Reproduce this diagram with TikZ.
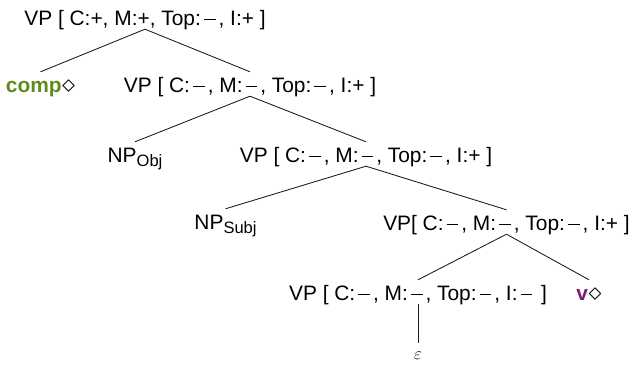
\documentclass[tikz,border=0pt]{standalone}
\usepackage{fontspec}
\setmainfont{Liberation Sans}
\definecolor{compgreen}{RGB}{96,140,28}
\definecolor{vpurple}{RGB}{122,26,122}
% feature value "minus", a spaced bar
\newcommand\fminus{\kern0.145em\rule[0.225em]{0.557em}{0.065em}\kern0.145em}
% lowered subscript for category labels
\newcommand\fsub[1]{\raisebox{-4.5pt}{\fontsize{16.5}{18}\selectfont #1}}
% head marker diamond
\newcommand\hdiam{\kern0.5pt\raisebox{-0.8pt}{\scalebox{1.25}{$\diamond$}}}
\tikzset{
  lbl/.style={anchor=base, inner xsep=0pt, inner ysep=4pt,
    text height=16pt, text depth=0pt,
    font=\fontsize{20.9}{25}\selectfont},
  branch/.style={line width=0.85pt, draw=black!90}
}
\begin{document}
\begin{tikzpicture}[x=1pt,y=-1pt]
\useasboundingbox (0,0) rectangle (633,365);

\node[lbl] (root)   at (145,25)   {VP [ C:+, M:+, Top:\fminus, I:+ ]};
\node[lbl] (comp)   at (40.5,92)  {\textcolor{compgreen}{\textbf{comp}}\hdiam};
\node[lbl] (vp2)    at (250,92)   {VP [ C:\fminus, M:\fminus, Top:\fminus, I:+ ]};
\node[lbl] (npobj)  at (135,162)  {NP\fsub{Obj}};
\node[lbl] (vp3)    at (366,162)  {VP [ C:\fminus, M:\fminus, Top:\fminus, I:+ ]};
\node[lbl] (npsubj) at (225.5,229) {NP\fsub{Subj}};
\node[lbl] (vp4)    at (506.5,230) {VP[ C:\fminus, M:\fminus, Top:\fminus, I:+ ]};
\node[lbl] (vp5)    at (418,300)  {VP [ C:\fminus, M:\fminus, Top:\fminus, I:\fminus{} ]};
\node[lbl] (vv)     at (589,300)  {\textcolor{vpurple}{\textbf{v}}\hdiam};
\node[anchor=base, inner sep=0pt, text height=16pt, text depth=0pt,
      font=\fontsize{18}{20}\selectfont] (eps) at (418,359) {$\varepsilon$};

\draw[branch] (root.south) -- (comp.north);
\draw[branch] (root.south) -- (vp2.north);
\draw[branch] (vp2.south) -- (npobj.north);
\draw[branch] (vp2.south) -- (vp3.north);
\draw[branch] (vp3.south) -- (npsubj.north);
\draw[branch] (vp3.south) -- (vp4.north);
\draw[branch] (vp4.south) -- (vp5.north);
\draw[branch] (vp4.south) -- (vv.north);
\draw[branch] (vp5.south) -- (eps.north);
\end{tikzpicture}
\end{document}
